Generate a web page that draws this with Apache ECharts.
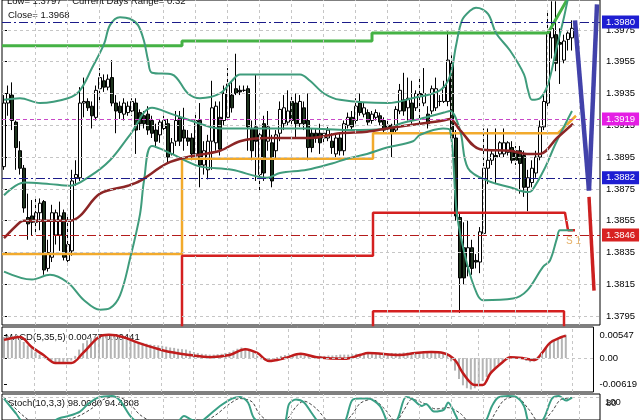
<!DOCTYPE html>
<html><head><meta charset="utf-8">
<script src="https://cdn.jsdelivr.net/npm/echarts@6/dist/echarts.min.js"></script>
<style>html,body{margin:0;padding:0;background:#fff}#c{width:640px;height:420px}</style>
</head><body><div id="c"></div>
<script>
// ---------- DATA ----------
// candles: [open, close, low, high]
const candles = [
[1.3889,1.3929,1.3887,1.3934],[1.3929,1.3935,1.3921,1.3940],[1.3934,1.3918,1.3912,1.3942],[1.3917,1.3901,1.3887,1.3918],
[1.3899,1.3888,1.3884,1.3905],[1.3888,1.3863,1.3860,1.3890],[1.3857,1.3853,1.3843,1.3872],[1.3858,1.3854,1.3846,1.3868],
[1.3854,1.3860,1.3846,1.3869],[1.3860,1.3866,1.3849,1.3869],[1.3867,1.3824,1.3821,1.3868],[1.3825,1.3835,1.3823,1.3843],
[1.3832,1.3860,1.3829,1.3865],[1.3846,1.3860,1.3840,1.3862],[1.3846,1.3858,1.3836,1.3867],[1.3860,1.3832,1.3830,1.3862],
[1.3830,1.3840,1.3827,1.3858],[1.3836,1.3880,1.3833,1.3887],[1.3882,1.3884,1.3877,1.3893],[1.3882,1.3929,1.3880,1.3939],
[1.3929,1.3930,1.3920,1.3945],[1.3930,1.3926,1.3924,1.3932],[1.3927,1.3921,1.3913,1.3930],[1.3920,1.3937,1.3918,1.3940],
[1.3938,1.3945,1.3930,1.3951],[1.3943,1.3939,1.3936,1.3947],[1.3939,1.3944,1.3937,1.3947],[1.3945,1.3929,1.3927,1.3956],
[1.3929,1.3924,1.3910,1.3934],[1.3927,1.3923,1.3919,1.3930],[1.3922,1.3929,1.3918,1.3932],[1.3923,1.3927,1.3921,1.3930],
[1.3924,1.3930,1.3921,1.3932],[1.3929,1.3912,1.3897,1.3932],[1.3923,1.3916,1.3912,1.3925],[1.3921,1.3916,1.3913,1.3924],
[1.3922,1.3912,1.3909,1.3927],[1.3918,1.3910,1.3907,1.3921],[1.3912,1.3905,1.3901,1.3916],[1.3909,1.3917,1.3904,1.3919],
[1.3913,1.3918,1.3910,1.3921],[1.3916,1.3895,1.3891,1.3919],[1.3897,1.3904,1.3896,1.3907],[1.3905,1.3918,1.3902,1.3924],
[1.3920,1.3905,1.3902,1.3924],[1.3912,1.3907,1.3899,1.3926],[1.3907,1.3905,1.3902,1.3912],[1.3907,1.3897,1.3893,1.3910],
[1.3897,1.3918,1.3893,1.3923],[1.3918,1.3890,1.3876,1.3929],[1.3890,1.3899,1.3884,1.3905],[1.3887,1.3905,1.3881,1.3909],
[1.3905,1.3926,1.3887,1.3943],[1.3904,1.3927,1.3899,1.3930],[1.3920,1.3900,1.3896,1.3930],[1.3918,1.3935,1.3915,1.3940],
[1.3920,1.3941,1.3918,1.3951],[1.3934,1.3926,1.3923,1.3943],[1.3938,1.3935,1.3934,1.3960],[1.3937,1.3936,1.3934,1.3940],
[1.3937,1.3937,1.3936,1.3940],[1.3938,1.3914,1.3899,1.3940],[1.3913,1.3899,1.3893,1.3918],[1.3914,1.3905,1.3880,1.3947],
[1.3884,1.3909,1.3874,1.3912],[1.3916,1.3885,1.3880,1.3921],[1.3905,1.3914,1.3899,1.3924],[1.3904,1.3880,1.3876,1.3909],
[1.3899,1.3909,1.3894,1.3912],[1.3910,1.3925,1.3905,1.3930],[1.3916,1.3926,1.3912,1.3934],[1.3917,1.3924,1.3915,1.3937],
[1.3930,1.3918,1.3915,1.3934],[1.3929,1.3916,1.3907,1.3935],[1.3916,1.3930,1.3914,1.3934],[1.3926,1.3916,1.3912,1.3930],
[1.3918,1.3901,1.3893,1.3935],[1.3910,1.3901,1.3898,1.3913],[1.3910,1.3907,1.3904,1.3913],[1.3910,1.3904,1.3897,1.3916],
[1.3907,1.3910,1.3904,1.3913],[1.3907,1.3912,1.3905,1.3914],[1.3905,1.3901,1.3897,1.3910],[1.3897,1.3907,1.3895,1.3910],
[1.3907,1.3899,1.3896,1.3910],[1.3899,1.3916,1.3896,1.3918],[1.3915,1.3920,1.3913,1.3923],[1.3920,1.3914,1.3912,1.3924],
[1.3918,1.3927,1.3916,1.3932],[1.3929,1.3923,1.3921,1.3935],[1.3922,1.3926,1.3920,1.3929],[1.3923,1.3917,1.3915,1.3925],
[1.3918,1.3922,1.3916,1.3924],[1.3920,1.3923,1.3918,1.3925],[1.3921,1.3917,1.3915,1.3923],[1.3918,1.3912,1.3910,1.3920],
[1.3915,1.3913,1.3910,1.3918],[1.3915,1.3910,1.3895,1.3916],[1.3912,1.3925,1.3910,1.3927],[1.3924,1.3937,1.3922,1.3941],
[1.3931,1.3924,1.3921,1.3948],[1.3926,1.3932,1.3918,1.3945],[1.3929,1.3918,1.3916,1.3943],[1.3926,1.3935,1.3924,1.3937],
[1.3935,1.3934,1.3914,1.3945],[1.3929,1.3935,1.3927,1.3951],[1.3922,1.3916,1.3913,1.3927],[1.3924,1.3938,1.3922,1.3940],
[1.3926,1.3938,1.3924,1.3945],[1.3930,1.3930,1.3927,1.3934],[1.3930,1.3939,1.3929,1.3943],[1.3930,1.3956,1.3927,1.3974],
[1.3954,1.3907,1.3905,1.3959],[1.3907,1.3858,1.3855,1.3912],[1.3857,1.3819,1.3797,1.3860],[1.3838,1.3819,1.3815,1.3854],
[1.3826,1.3838,1.3820,1.3855],[1.3838,1.3825,1.3821,1.3843],[1.3830,1.3829,1.3825,1.3834],[1.3829,1.3848,1.3822,1.3851],
[1.3847,1.3888,1.3846,1.3913],[1.3888,1.3893,1.3878,1.3913],[1.3893,1.3897,1.3890,1.3900],[1.3896,1.3895,1.3878,1.3913],
[1.3897,1.3904,1.3895,1.3905],[1.3897,1.3904,1.3895,1.3913],[1.3898,1.3904,1.3896,1.3905],[1.3901,1.3893,1.3891,1.3905],
[1.3899,1.3893,1.3890,1.3902],[1.3899,1.3891,1.3872,1.3902],[1.3896,1.3876,1.3870,1.3899],[1.3876,1.3882,1.3861,1.3887],
[1.3879,1.3888,1.3876,1.3893],[1.3885,1.3895,1.3882,1.3899],[1.3895,1.3914,1.3893,1.3918],[1.3914,1.3930,1.3912,1.3934],
[1.3929,1.3973,1.3927,1.3987],[1.3970,1.3976,1.3957,1.3993],[1.3972,1.3954,1.3949,1.3993],[1.3967,1.3966,1.3941,1.3976],
[1.3956,1.3968,1.3954,1.3972],[1.3969,1.3973,1.3962,1.3974],[1.3970,1.3976,1.3962,1.3981]
];
// indicator curves: [bar index, price]
const upperBand = [[0,1.3931],[4,1.3932],[9,1.3929],[16,1.3932],[19,1.3937],[22,1.3951],[25,1.3966],[26.5,1.3978],[29,1.3983],[31.5,1.3982],[33.5,1.3978],[35,1.3968],[36,1.3956],[37,1.3948],[42,1.3947],[46,1.3935],[49,1.3932],[54,1.3935],[57,1.3943],[59,1.3947],[74,1.3947],[76.5,1.3943],[80,1.3935],[84,1.3931],[96,1.3929],[102,1.3932],[109,1.3937],[111.5,1.3946],[113,1.3965],[114.5,1.3981],[116.5,1.3987],[118,1.3989],[121,1.3985],[123,1.3973],[126.5,1.3962],[130,1.3947],[131,1.3937],[132,1.3931],[134,1.3932],[136,1.3941],[138,1.3962],[140,1.3983],[141.5,1.4000],[143,1.4012]];
const middleBand = [[0,1.3871],[5,1.3879],[11.5,1.3878],[16.5,1.3877],[21.5,1.3883],[26.5,1.3893],[31.5,1.3909],[37,1.3926],[42,1.3922],[49,1.3916],[54,1.3913],[64,1.3913],[76,1.3913],[86,1.3912],[96,1.3913],[99,1.3916],[104,1.3919],[110,1.3923],[111.5,1.3924],[114,1.3912],[116,1.3888],[121,1.3880],[126.5,1.3876],[131,1.3873],[132,1.3874],[135,1.3887],[138,1.3904],[142,1.3924]];
const lowerBand = [[0,1.3823],[7,1.3818],[11.5,1.3821],[16,1.3816],[20,1.3805],[24,1.3799],[26.5,1.3800],[29,1.3808],[31.5,1.3831],[34,1.3859],[35,1.3880],[37,1.3902],[42,1.3897],[46,1.3892],[49,1.3889],[57,1.3887],[65.75,1.3882],[69,1.3885],[75.75,1.3887],[82,1.3891],[85.75,1.3894],[90.75,1.3897],[95.75,1.3901],[102.25,1.3905],[104,1.3909],[109.75,1.3913],[111.5,1.3912],[113.25,1.3859],[115.75,1.3828],[118.25,1.3809],[119.75,1.3805],[127.25,1.3806],[130.75,1.3811],[134.75,1.3826],[136.5,1.3830],[138.25,1.3844],[139,1.3849],[142.25,1.3849]];
const maLine = [[0,1.3844],[4,1.3854],[5,1.3855],[16.5,1.3855],[19,1.3858],[24,1.3872],[31,1.3877],[34,1.3880],[40.75,1.3891],[45.75,1.3895],[54,1.3899],[59,1.3905],[65.75,1.3907],[76.5,1.3907],[84,1.3910],[90.75,1.3911],[95.75,1.3913],[104,1.3916],[109.75,1.3918],[111.5,1.3919],[114,1.3912],[119,1.3900],[126.5,1.3899],[130.75,1.3897],[134,1.3897],[138.25,1.3907],[142.25,1.3916]];
const resistLine = [[-0.5,1.3965],[44.5,1.3965],[44.5,1.3968],[92,1.3968],[92,1.3973],[136,1.3973],[141,1.3995]];
const supportLine = [[-0.5,1.3834],[44.5,1.3834],[44.5,1.3894],[92.25,1.3894],[92.25,1.3910],[138.5,1.3910],[143,1.3921]];
const redLine1 = [[-0.5,1.3770],[44.5,1.3770],[44.5,1.3833],[92.25,1.3833],[92.25,1.3860],[140.25,1.3860],[141,1.3849],[142.75,1.3849]];
const redLine2 = [[92.25,1.3770],[92.25,1.3798],[140,1.3798],[140,1.3770]];
const forecastBlue = [[142.75,1.3981],[146.25,1.3874],[148.25,1.3991]];
const forecastRed = [[146.25,1.3870],[147.5,1.3811]];
const levelValues = [1.3980, 1.3919, 1.3882, 1.3846];
const s1Point = [142.4, 1.3842];
const priceTicks = [1.3795,1.3815,1.3835,1.3855,1.3875,1.3895,1.3915,1.3935,1.3955,1.3975];
// MACD
const macdHist = [0.0050,0.0052,0.0052,0.0048,0.0044,0.0038,0.0030,0.0025,
0.0015,0.0008,0.0002,
-0.0005,-0.0008,-0.0010,-0.0010,-0.0010,-0.0009,-0.0006,
0.0005,0.0020,0.0035,0.0042,0.0048,0.0052,0.0054,0.0055,
0.0054,0.0052,0.0050,0.0048,0.0046,0.0044,0.0042,0.0040,0.0038,0.0036,0.0034,0.0032,0.0031,0.0030,0.0029,0.0027,0.0025,0.0024,0.0022,0.0021,0.0020,
0.0017,0.0014,0.0012,0.0010,0.0009,0.0008,0.0008,0.0009,0.0010,0.0012,0.0014,
0.0018,0.0022,0.0025,0.0024,0.0020,0.0014,
0.0005,-0.0003,-0.0006,-0.0005,-0.0003,0.0002,0.0005,
0.0007,0.0008,0.0008,0.0008,0.0007,0.0006,0.0006,0.0005,0.0005,
0.0005,0.0005,0.0006,0.0006,0.0007,0.0008,0.0008,0.0008,0.0009,0.0010,0.0010,0.0010,0.0010,0.0009,0.0009,0.0010,0.0010,0.0011,0.0012,0.0012,
0.0012,0.0013,0.0013,0.0013,0.0014,0.0014,0.0014,0.0013,0.0013,0.0013,0.0013,0.0014,0.0010,
-0.0008,-0.0030,-0.0050,-0.0065,-0.0072,-0.0075,-0.0072,-0.0065,-0.0055,-0.0045,-0.0035,-0.0025,-0.0015,-0.0008,
-0.0002,0.0002,0.0003,0.0002,
-0.0003,-0.0007,-0.0010,-0.0008,-0.0003,
0.0012,0.0025,0.0035,0.0042,0.0048,0.0052,0.0055];
const macdSignal = [[0,0.0043],[4,0.0050],[7,0.0026],[10,0.0007],[13,-0.0012],[17,-0.0012],[20,0.0012],[24,0.0050],[26.5,0.0055],[30,0.0050],[34,0.0036],[38,0.0024],[42,0.0014],[47,0.0007],[52,0.0002],[57,0.0007],[61,0.0021],[64,0.0012],[67,-0.0007],[71,0.0000],[75,0.0010],[79,0.0002],[86,-0.0002],[90,0.0007],[92,0.0012],[100,0.0007],[104,0.0012],[108,0.0014],[111,0.0012],[114,-0.0005],[116,-0.0036],[119,-0.0064],[121,-0.0064],[123,-0.0036],[126,-0.0010],[128,0.0002],[131,0.0000],[134,-0.0005],[136,0.0012],[138,0.0036],[141,0.0050],[142,0.0053]];
const macdTicks = [0.00547, 0, -0.00619];
// Stochastic
const stochMain = [[0,90],[3,44],[5,13],[9,3],[14,30],[16,36],[19,50],[21,73],[23.5,93],[27,98],[29,84],[32,30],[36,5],[43,13],[45,36],[47,24],[49,19],[51,36],[54,67],[57,90],[59,95],[61,78],[62.5,30],[66,5],[70,13],[71.25,73],[73,87],[75,78],[77,44],[79,13],[82,3],[85,13],[87,84],[89,90],[91,90],[94,67],[96,13],[97,8],[98.5,30],[100.5,95],[102,90],[104.5,67],[105.5,73],[107.5,50],[110,56],[111,78],[113,36],[114,13],[116.5,3],[120,13],[122,67],[123.5,93],[126,98],[128,95],[130,67],[131.25,13],[133,5],[135,30],[137,90],[138.75,98],[140.5,84],[142,93]];
const stochSignal = [[0,95],[2,70],[5,35],[8,12],[12,10],[16,25],[19,38],[22,60],[25,88],[28,96],[31,80],[34,40],[38,15],[44,12],[47,25],[50,22],[53,40],[56,70],[59,90],[62,80],[64,40],[68,10],[71,30],[73,65],[75,82],[78,60],[81,20],[84,8],[87,40],[89,75],[92,88],[95,60],[98,20],[100,55],[102,88],[105,75],[108,58],[111,62],[114,45],[117,12],[121,15],[123,50],[125,85],[128,96],[131,60],[134,15],[137,50],[139,85],[142,93]];

// ---------- CHART ----------
const FONT = 'Liberation Sans, Arial, sans-serif';
const chart = echarts.init(document.getElementById('c'), null, {renderer:'canvas'});
const gridV = Array.from({length:18}, (_, k) => 7.75 + 8 * k);
const gridStyle = {color:'#c6c6c6', type:[3,3], width:1};
const noLbl = {show:false};
function gridLines(xs, ys){
  return {silent:true, precision:6, symbol:['none','none'], label:noLbl, lineStyle:gridStyle, animation:false,
    data: xs.map(v=>({xAxis:v})).concat(ys.map(v=>({yAxis:v})))};
}
const levelStyles = [
  {line:'#1c1c8a', box:'#1e1ed2', type:[9,3,2,3]},
  {line:'#c848c8', box:'#e41ee4', type:[4,3]},
  {line:'#1c1c8a', box:'#1e1ed2', type:[9,3,2,3]},
  {line:'#b41c1c', box:'#d82222', type:[9,3,2,3]}
];
const xAx = i => ({type:'value', gridIndex:i, min:-0.5, max:149, show:false});
const teal = '#3f9c7c';
function curve(data, color, width, smooth){
  return {type:'line', xAxisIndex:0, yAxisIndex:0, data, showSymbol:false, symbol:'none', smooth: smooth ? 0.35 : false,
    lineStyle:{color, width}, z:4, silent:true, animation:false, clip:true};
}
const option = {
  animation:false,
  grid:[
    {left:2, right:40, top:-1, height:326, show:true, borderColor:'#000', borderWidth:1},
    {left:2, right:40, top:327, height:65, show:true, borderColor:'#000', borderWidth:1},
    {left:2, right:40, top:394, height:28, show:true, borderColor:'#000', borderWidth:1}
  ],
  xAxis:[xAx(0), xAx(1), xAx(2)],
  yAxis:[
    {type:'value', gridIndex:0, position:'right', min:1.37894, max:1.39938, splitLine:{show:false},
      axisLine:{show:false}, axisTick:{show:true, length:3, lineStyle:{color:'#000'}, customValues:priceTicks},
      axisLabel:{customValues:priceTicks, formatter:v=>v.toFixed(4), color:'#000', fontSize:9.5, fontFamily:FONT, margin:6}},
    {type:'value', gridIndex:1, position:'right', min:-0.00809, max:0.00737, splitLine:{show:false},
      axisLine:{show:false}, axisTick:{show:true, length:3, lineStyle:{color:'#000'}, customValues:macdTicks},
      axisLabel:{customValues:macdTicks, formatter:v=> v===0 ? '0.00' : v.toFixed(5), color:'#000', fontSize:9.5, fontFamily:FONT, margin:6}},
    {type:'value', gridIndex:2, position:'right', min:24, max:104, splitLine:{show:false},
      axisLine:{show:false}, axisTick:{show:false}, axisLabel:{show:false}}
  ],
  graphic:[
    {type:'text', left:7, top:-4, style:{text:'Low= 1.3797    Current Days Range= 0.32', fill:'#111', font:'9.5px '+FONT}},
    {type:'text', left:8, top:10, style:{text:'Close= 1.3968', fill:'#111', font:'9.5px '+FONT}},
    {type:'text', left:5, top:332, style:{text:'MACD(5,35,5) 0.00477 0.00441', fill:'#111', font:'9.5px '+FONT}},
    {type:'text', left:8, top:398, style:{text:'Stoch(10,3,3) 98.0080 94.4808', fill:'#111', font:'9.5px '+FONT}},
    {type:'text', left:605, top:397, style:{text:'100', fill:'#111', font:'9.5px '+FONT}},
    {type:'text', left:606, top:398, style:{text:'80', fill:'#111', font:'9.5px '+FONT}}
  ],
  series:[
    {type:'line', xAxisIndex:0, yAxisIndex:0, data:[], z:1, silent:true, markLine:gridLines(gridV, priceTicks)},
    {type:'line', xAxisIndex:1, yAxisIndex:1, data:[], z:1, silent:true, markLine:gridLines(gridV, [0])},
    {type:'line', xAxisIndex:2, yAxisIndex:2, data:[], z:1, silent:true, markLine:gridLines(gridV, [93])},
    {type:'line', xAxisIndex:0, yAxisIndex:0, data:[], z:3, silent:true,
      markLine:{silent:true, precision:6, symbol:['none','none'], animation:false,
        data: levelValues.map((v,k)=>({yAxis:v, lineStyle:{color:levelStyles[k].line, type:levelStyles[k].type, width:1},
          label:{show:true, position:'end', distance:2, formatter:v.toFixed(4), color:'#fff', backgroundColor:levelStyles[k].box,
            padding:[2,4,1,4], fontSize:9.5, fontFamily:FONT}}))}},
    {type:'candlestick', xAxisIndex:0, yAxisIndex:0, z:3, barWidth:3,
      data: candles.map((c,i)=>[i, c[0], c[1], c[2], c[3]]), encode:{x:0, y:[1,2,3,4]},
      itemStyle:{color:'#ffffff', color0:'#1d331d', borderColor:'#000', borderColor0:'#000', borderWidth:1}},
    curve(resistLine, '#45b245', 3, false),
    curve(supportLine, '#f2aa2c', 2.5, false),
    curve(redLine1, '#d42020', 2.5, false),
    curve(redLine2, '#d42020', 2.5, false),
    curve(upperBand, teal, 2, true),
    curve(middleBand, teal, 2, true),
    curve(lowerBand, teal, 2, true),
    curve(maLine, '#8c2626', 2.5, true),
    {type:'line', xAxisIndex:0, yAxisIndex:0, data:[], z:6, silent:true,
      markLine:{silent:true, precision:6, animation:false, label:noLbl, symbolSize:[0,11],
        data:[
          [{coord:forecastBlue[0], symbol:'none', lineStyle:{color:'#4242aa', width:4.5, type:'solid'}},{coord:forecastBlue[1], symbol:'none'}],
          [{coord:forecastBlue[1], symbol:'none', lineStyle:{color:'#4242aa', width:4.5, type:'solid'}},{coord:forecastBlue[2], symbol:'arrow'}],
          [{coord:forecastRed[0], symbol:'none', lineStyle:{color:'#cc2020', width:3.5, type:'solid'}},{coord:forecastRed[1], symbol:'arrow'}]
        ]},
      markPoint:{silent:true, animation:false, symbol:'circle', symbolSize:0,
        data:[{coord:s1Point, label:{show:true, formatter:'S 1', color:'#e6b26a', fontSize:10, fontFamily:FONT, position:'inside'}}]}},
    {type:'bar', xAxisIndex:1, yAxisIndex:1, data: macdHist.map((v,i)=>[i,v]), barWidth:2, itemStyle:{color:'#b4b4b4'}, z:2, silent:true},
    {type:'line', xAxisIndex:1, yAxisIndex:1, data: macdSignal, showSymbol:false, smooth:0.35, lineStyle:{color:'#c01c1c', width:2.5}, z:3, silent:true},
    {type:'line', xAxisIndex:2, yAxisIndex:2, data: stochSignal, showSymbol:false, smooth:0.3, lineStyle:{color:'#444', width:1, type:[3,2]}, z:3, silent:true, clip:true},
    {type:'line', xAxisIndex:2, yAxisIndex:2, data: stochMain, showSymbol:false, smooth:0.3, lineStyle:{color:'#3aa086', width:2}, z:4, silent:true, clip:true}
  ]
};
chart.setOption(option);
</script>
</body></html>
